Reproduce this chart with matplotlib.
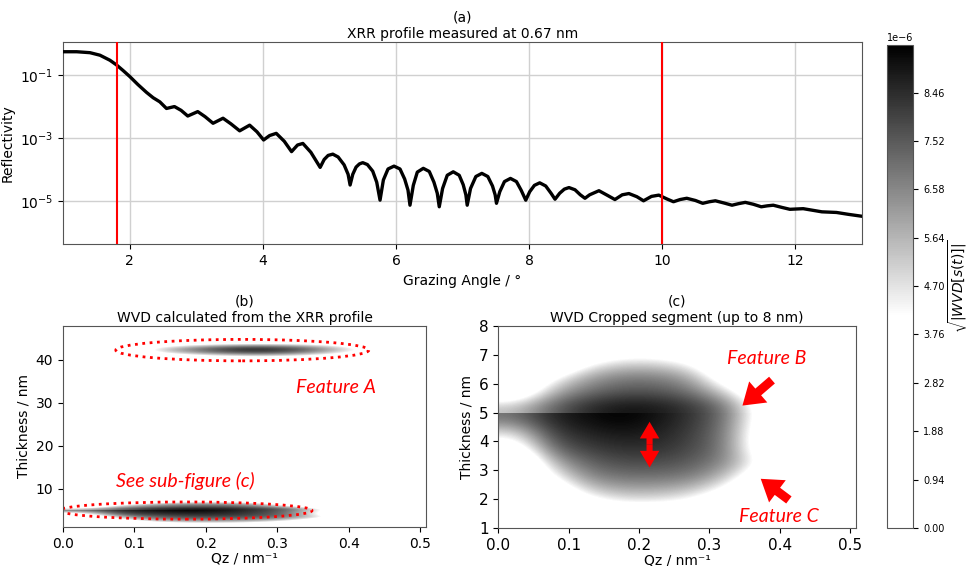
import numpy as np
import matplotlib
matplotlib.use("Agg")
import matplotlib.pyplot as plt
from matplotlib.colors import LinearSegmentedColormap
from matplotlib.patches import Ellipse

# ---- (a) XRR profile (angle in deg, log10 reflectivity)
angle = [1.00, 1.20, 1.40, 1.55, 1.70, 1.80, 1.90, 2.00, 2.12, 2.25, 2.35, 2.45,
         2.55, 2.67, 2.77, 2.87, 3.02, 3.13, 3.25, 3.40, 3.52, 3.65, 3.80, 3.91,
         4.01, 4.10, 4.20, 4.32, 4.43, 4.52, 4.60, 4.72, 4.86, 4.92, 4.98, 5.05,
         5.13, 5.22, 5.28, 5.31, 5.35, 5.40, 5.45, 5.50, 5.57, 5.65, 5.71, 5.76,
         5.81, 5.88, 5.97, 6.06, 6.13, 6.18, 6.21, 6.26, 6.32, 6.41, 6.50, 6.57,
         6.62, 6.65, 6.70, 6.77, 6.86, 6.95, 7.01, 7.05, 7.07, 7.12, 7.20, 7.29,
         7.38, 7.45, 7.49, 7.51, 7.56, 7.63, 7.72, 7.81, 7.88, 7.95, 8.01, 8.08,
         8.16, 8.25, 8.33, 8.39, 8.46, 8.53, 8.60, 8.69, 8.77, 8.84, 8.91, 9.05,
         9.18, 9.29, 9.40, 9.50, 9.62, 9.72, 9.84, 9.95, 10.07, 10.17, 10.27,
         10.37, 10.50, 10.61, 10.71, 10.80, 10.93, 11.05, 11.15, 11.25, 11.37,
         11.49, 11.58, 11.67, 11.80, 11.92, 12.12, 12.40, 12.62, 12.80, 13.00]
refl_log = [-0.26, -0.26, -0.29, -0.37, -0.53, -0.68, -0.86, -1.05, -1.30, -1.55, -1.72, -1.85,
            -2.06, -2.00, -2.12, -2.30, -2.16, -2.32, -2.53, -2.37, -2.55, -2.77, -2.59, -2.80,
            -3.06, -2.92, -2.85, -3.10, -3.43, -3.22, -3.17, -3.45, -3.93, -3.68, -3.55, -3.51,
            -3.60, -3.85, -4.15, -4.49, -4.15, -3.92, -3.82, -3.78, -3.84, -4.05, -4.40, -4.97,
            -4.33, -3.98, -3.89, -3.98, -4.30, -4.65, -5.13, -4.50, -4.08, -3.96, -4.06, -4.40,
            -4.75, -5.18, -4.60, -4.18, -4.07, -4.18, -4.48, -4.80, -5.13, -4.60, -4.22, -4.12,
            -4.22, -4.52, -4.80, -5.07, -4.70, -4.38, -4.28, -4.38, -4.65, -4.97, -4.70, -4.50,
            -4.42, -4.52, -4.75, -4.94, -4.75, -4.62, -4.57, -4.64, -4.80, -4.91, -4.80, -4.67,
            -4.82, -4.95, -4.80, -4.76, -4.86, -4.99, -4.85, -4.81, -4.93, -5.02, -4.95,
            -4.91, -4.98, -5.07, -5.02, -4.99, -5.06, -5.13, -5.08, -5.04, -5.10,
            -5.18, -5.15, -5.13, -5.20, -5.26, -5.24, -5.34, -5.36, -5.42, -5.48]
marked_angles = [1.8, 10.0]

# ---- WVD maps, values in units of 1e-6
# columns: Qz bins of 0.05 nm^-1 from 0 to 0.55, rows: 0.5 nm thickness bins
qz_edges = [0.0, 0.55]
# below the 5 nm step (bins 1.0-1.5 ... 4.5-5.0, bottom row first)
low_edges = [1.0, 5.0]
wvd_low = [
    [0.0, 0.0, 0.0, 0.0, 0.0, 0.0, 0.0, 0.0, 0, 0, 0],
    [0.0, 0.0, 2.5, 3.8, 3.8, 3.2, 1.0, 0.0, 0, 0, 0],
    [0.0, 1.5, 4.9, 5.7, 5.7, 5.2, 3.5, 0.0, 0, 0, 0],
    [0.0, 3.8, 6.5, 7.0, 7.0, 6.8, 5.4, 2.0, 0, 0, 0],
    [0.0, 5.6, 7.3, 7.8, 7.8, 7.5, 6.5, 3.8, 0, 0, 0],
    [2.5, 7.2, 8.1, 8.4, 8.4, 7.9, 6.8, 2.5, 0, 0, 0],
    [4.6, 8.0, 8.6, 8.9, 8.7, 8.1, 6.8, 2.5, 0, 0, 0],
    [7.0, 8.6, 9.1, 9.4, 9.0, 8.3, 7.0, 3.0, 0, 0, 0],
]
# above the 5 nm step (bins 5.0-5.5 ... 7.5-8.0)
high_edges = [5.0, 8.0]
wvd_high = [
    [5.4, 7.3, 8.5, 9.0, 8.9, 8.3, 7.0, 3.0, 0, 0, 0],
    [1.5, 5.6, 7.0, 7.6, 7.6, 7.0, 5.0, 1.5, 0, 0, 0],
    [0.0, 3.8, 6.0, 6.8, 6.8, 6.0, 2.5, 0.0, 0, 0, 0],
    [0.0, 0.0, 3.8, 4.9, 4.9, 4.0, 1.0, 0.0, 0, 0, 0],
    [0.0, 0.0, 1.0, 2.5, 2.5, 1.5, 0.0, 0.0, 0, 0, 0],
    [0.0, 0.0, 0.0, 0.0, 0.0, 0.0, 0.0, 0.0, 0, 0, 0],
]
# Feature A band (1 nm bins, 39-46 nm)
a_edges = [39.0, 46.0]
wvd_a = [
    [0, 0, 0.0, 0.0, 0.0, 0.0, 0.0, 0.0, 0.0, 0, 0],
    [0, 0, 0.0, 2.0, 3.0, 3.5, 3.0, 2.0, 0.0, 0, 0],
    [0, 0, 4.0, 5.8, 7.2, 7.8, 7.0, 5.2, 3.0, 0, 0],
    [0, 0, 4.8, 6.8, 8.5, 9.1, 8.3, 6.3, 3.8, 0, 0],
    [0, 0, 2.0, 3.5, 4.5, 5.0, 4.5, 3.5, 1.5, 0, 0],
    [0, 0, 0.0, 0.0, 0.0, 0.0, 0.0, 0.0, 0.0, 0, 0],
    [0, 0, 0.0, 0.0, 0.0, 0.0, 0.0, 0.0, 0.0, 0, 0],
]
vmax = 9.38e-6
cbar_ticks = [0.00, 0.94, 1.88, 2.82, 3.76, 4.70, 5.64, 6.58, 7.52, 8.46]

cmap = LinearSegmentedColormap.from_list("wvd", [(0, "white"), (0.44, "white"), (1, "black")])
red_font = dict(color="red", style="italic", family=["Lato", "DejaVu Sans"], fontsize=14)


def show_map(ax, values, y_edges):
    return ax.imshow(np.array(values) * 1e-6, origin="lower", aspect="auto",
                     extent=[qz_edges[0], qz_edges[1], y_edges[0], y_edges[1]],
                     interpolation="bicubic", interpolation_stage="data",
                     cmap=cmap, vmin=0, vmax=vmax)


def fat_arrow(ax, head, tail, style):
    ax.annotate("", xy=head, xytext=tail,
                arrowprops=dict(arrowstyle=style, color="red", lw=0,
                                mutation_scale=20, shrinkA=0, shrinkB=0))


fig = plt.figure(figsize=(9.7, 5.66), dpi=100)
ax_a = fig.add_axes([0.0653, 0.5684, 0.8231, 0.3569])
ax_b = fig.add_axes([0.0649, 0.0684, 0.3742, 0.3562])
ax_c = fig.add_axes([0.5137, 0.0666, 0.3685, 0.3580])
cax = fig.add_axes([0.9148, 0.0671, 0.0268, 0.853])

for ax in (ax_a, ax_b, ax_c, cax):
    for sp in ax.spines.values():
        sp.set_color("#555555")

# (a)
ax_a.plot(angle, 10 ** np.array(refl_log), color="black", lw=2.4, zorder=3)
for a in marked_angles:
    ax_a.axvline(a, color="red", lw=1.5, zorder=4)
ax_a.set_yscale("log")
ax_a.set_xlim(1, 13)
ax_a.set_ylim(10 ** -6.37, 10 ** 0.04)
ax_a.set_yticks([1e-5, 1e-3, 1e-1])
ax_a.yaxis.set_minor_locator(matplotlib.ticker.NullLocator())
ax_a.set_xticks([2, 4, 6, 8, 10, 12])
ax_a.grid(color="#d0d0d0", lw=1)
ax_a.set_xlabel("Grazing Angle / °", fontsize=10)
ax_a.set_ylabel("Reflectivity", fontsize=10)
ax_a.set_title("(a)\nXRR profile measured at 0.67 nm", fontsize=10, pad=3, linespacing=1.2)
ax_a.tick_params(labelsize=10)

# (b)
show_map(ax_b, wvd_low, low_edges)
show_map(ax_b, wvd_high, high_edges)
show_map(ax_b, wvd_a, a_edges)
ax_b.add_patch(Ellipse((0.251, 42.3), 0.354, 5.0, fill=False, ec="red", ls=":", lw=2))
ax_b.add_patch(Ellipse((0.172, 4.9), 0.353, 4.0, fill=False, ec="red", ls=":", lw=2))
ax_b.text(0.382, 33.7, "Feature A", ha="center", va="center", **red_font)
ax_b.text(0.171, 11.8, "See sub-figure (c)", ha="center", va="center", **red_font)
ax_b.set_xlim(0, 0.508)
ax_b.set_ylim(1, 48)
ax_b.set_yticks([10, 20, 30, 40])
ax_b.set_xticks([0, 0.1, 0.2, 0.3, 0.4, 0.5])
ax_b.set_xlabel("Qz / nm⁻¹", fontsize=10, labelpad=0)
ax_b.set_ylabel("Thickness / nm", fontsize=10)
ax_b.set_title("(b)\nWVD calculated from the XRR profile", fontsize=10, pad=3, linespacing=1.2)
ax_b.tick_params(labelsize=10)

# (c)
show_map(ax_c, wvd_low, low_edges)
mesh_c = show_map(ax_c, wvd_high, high_edges)
double_style = "simple,head_length=0.6,head_width=0.7,tail_width=0.22"
fat_arrow(ax_c, (0.215, 4.68), (0.215, 3.89), double_style)
fat_arrow(ax_c, (0.215, 3.10), (0.215, 3.89), double_style)
feature_style = "simple,head_length=0.75,head_width=1.0,tail_width=0.32"
fat_arrow(ax_c, (0.347, 5.24), (0.389, 6.12), feature_style)
fat_arrow(ax_c, (0.373, 2.71), (0.413, 1.98), feature_style)
ax_c.text(0.382, 6.85, "Feature B", ha="center", va="center", **red_font)
ax_c.text(0.399, 1.40, "Feature C", ha="center", va="center", **red_font)
ax_c.set_xlim(0, 0.508)
ax_c.set_ylim(1, 8)
ax_c.set_yticks(range(1, 9))
ax_c.set_xticks([0, 0.1, 0.2, 0.3, 0.4, 0.5])
ax_c.set_xlabel("Qz / nm⁻¹", fontsize=10, labelpad=0)
ax_c.set_ylabel("Thickness / nm", fontsize=10)
ax_c.set_title("(c)\nWVD Cropped segment (up to 8 nm)", fontsize=10, pad=3, linespacing=1.2)
ax_c.tick_params(labelsize=11)

# colour bar
cbar = fig.colorbar(mesh_c, cax=cax, ticks=np.array(cbar_ticks) * 1e-6)
cbar.outline.set_edgecolor("#555555")
cbar.ax.tick_params(labelsize=7)
cbar.ax.yaxis.get_offset_text().set_fontsize(7)
cbar.set_label(r"$\sqrt{|WVD[s(t)]|}$", fontsize=10, labelpad=1)

fig.savefig("out.png", dpi=100)
